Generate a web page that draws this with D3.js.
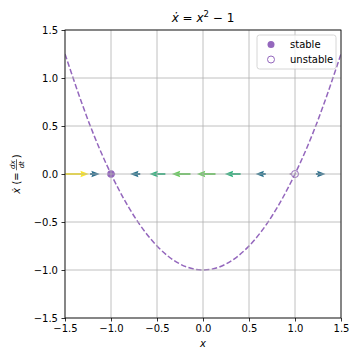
<!DOCTYPE html>
<html><head><meta charset="utf-8">
<script src="https://cdn.jsdelivr.net/npm/d3@7/dist/d3.min.js"></script>
<style>body{margin:0;background:#fff}svg{display:block;font-family:"DejaVu Sans",sans-serif}</style>
</head><body><svg id="c" width="360" height="360"></svg>
<script>
// ---- data ----
const curveX = [-1.5,-1.25,-1.0,-0.75,-0.5,-0.25,0.0,0.25,0.5,0.75,1.0,1.25,1.5];
const curveY = [1.25,0.5625,0.0,-0.4375,-0.75,-0.9375,-1.0,-0.9375,-0.75,-0.4375,0.0,0.5625,1.25];
const quiverX = [-1.5,-1.227,-0.955,-0.682,-0.409,-0.136,0.136,0.409,0.682,0.955,1.227,1.5];
const quiverU = [1.25,0.506,-0.088,-0.535,-0.833,-0.981,-0.981,-0.833,-0.535,-0.088,0.506,1.25];
const stableX = [-1.0];
const unstableX = [1.0];
const xTicks = [-1.5,-1.0,-0.5,0.0,0.5,1.0,1.5];
const yTicks = [-1.5,-1.0,-0.5,0.0,0.5,1.0,1.5];
const legendLabels = ["stable","unstable"];

const purple = "#9467bd";
const svg = d3.select("#c");
const L = 65, R = 341, T = 30, B = 318;
const x = d3.scaleLinear().domain([-1.5,1.5]).range([L,R]);
const y = d3.scaleLinear().domain([-1.5,1.5]).range([B,T]);
const fmt = v => d3.format(".1f")(v).replace("-", "\u2212");

svg.append("defs").append("clipPath").attr("id","clip")
  .append("rect").attr("x",L).attr("y",T).attr("width",R-L).attr("height",B-T);
const plot = svg.append("g").attr("clip-path","url(#clip)");

// quiver arrows
const mags = quiverU.map(Math.abs);
const mMin = d3.min(mags), mMax = d3.max(mags);
const color = d3.scaleSequential(d3.interpolateViridis).domain([mMin,mMax]);
const pxPerUnit = 19, w = 2.1;
quiverX.forEach((qx,i)=>{
  const u = quiverU[i];
  let len = Math.abs(u)*pxPerUnit;
  let hl = 4*w, hal = 3.6*w, hw = 3*w, sw = w;
  let s = 1;
  if (len < hl) { s = len/hl; }
  hl*=s; hal*=s; hw*=s; sw*=s;
  const pts = [[0,-sw/2],[len-hal,-sw/2],[len-hl,-hw/2],[len,0],[len-hl,hw/2],[len-hal,sw/2],[0,sw/2]];
  const dir = u>=0?1:-1;
  const x0 = x(qx), y0 = y(0);
  plot.append("polygon")
    .attr("points", pts.map(p=>[x0+dir*p[0], y0+p[1]].join(",")).join(" "))
    .attr("fill", color(Math.abs(u)));
});

// stable / unstable points
plot.selectAll(".st").data(stableX).enter().append("circle")
  .attr("cx",d=>x(d)).attr("cy",y(0)).attr("r",3.8).attr("fill",purple);
plot.selectAll(".un").data(unstableX).enter().append("circle")
  .attr("cx",d=>x(d)).attr("cy",y(0)).attr("r",3.5).attr("fill","none")
  .attr("stroke",purple).attr("stroke-width",1);

// grid
const grid = svg.append("g");
xTicks.forEach(t=>grid.append("line").attr("x1",x(t)).attr("x2",x(t)).attr("y1",T).attr("y2",B)
  .attr("stroke","#b0b0b0").attr("stroke-width",0.8));
yTicks.forEach(t=>grid.append("line").attr("x1",L).attr("x2",R).attr("y1",y(t)).attr("y2",y(t))
  .attr("stroke","#b0b0b0").attr("stroke-width",0.8));

// curve
const line = d3.line().x(d=>x(d[0])).y(d=>y(d[1])).curve(d3.curveNatural);
plot.append("path").datum(curveX.map((v,i)=>[v,curveY[i]]))
  .attr("d",line).attr("fill","none").attr("stroke",purple)
  .attr("stroke-width",1.5).attr("stroke-dasharray","5.5,2.4");

// axes
svg.append("g").attr("transform",`translate(0,${B})`)
  .call(d3.axisBottom(x).tickValues(xTicks).tickFormat(fmt).tickSize(3.5).tickPadding(3.5))
  .call(g=>{g.select(".domain").remove();g.selectAll("text").attr("font-size",10).attr("fill","#000").attr("font-family","DejaVu Sans");g.selectAll("line").attr("stroke","#000").attr("stroke-width",0.8);});
svg.append("g").attr("transform",`translate(${L},0)`)
  .call(d3.axisLeft(y).tickValues(yTicks).tickFormat(fmt).tickSize(3.5).tickPadding(3.5))
  .call(g=>{g.select(".domain").remove();g.selectAll("text").attr("font-size",10).attr("fill","#000").attr("font-family","DejaVu Sans");g.selectAll("line").attr("stroke","#000").attr("stroke-width",0.8);});
svg.append("rect").attr("x",L).attr("y",T).attr("width",R-L).attr("height",B-T)
  .attr("fill","none").attr("stroke","#000").attr("stroke-width",0.8);

// title
const title = svg.append("text").attr("x",(L+R)/2).attr("y",22).attr("text-anchor","middle")
  .attr("font-size",12);
title.append("tspan").attr("font-style","italic").text("\u1E8B");
title.append("tspan").text(" = ");
title.append("tspan").attr("font-style","italic").text("x");
title.append("tspan").attr("font-size",8.5).attr("dy",-5).text("2");
title.append("tspan").attr("dy",5).text(" \u2212 1");

// x label
svg.append("text").attr("x",(L+R)/2).attr("y",347).attr("text-anchor","middle")
  .attr("font-size",10).attr("font-style","italic").text("x");

// y label
const yl = svg.append("g").attr("transform","translate(20,174) rotate(-90)");
const t1 = yl.append("text").attr("font-size",10).attr("y",0);
t1.append("tspan").attr("font-style","italic").text("\u1E8B");
t1.append("tspan").text(" (=");
const w1 = t1.node().getComputedTextLength();
const fw = 11;
const t3 = yl.append("text").attr("font-size",10).text(")");
const w3 = t3.node().getComputedTextLength();
const total = w1 + 2 + fw + 1 + w3;
const x0 = -total/2;
t1.attr("x",x0);
const fc = x0 + w1 + 2 + fw/2;
yl.append("text").attr("x",fc).attr("y",-5.5).attr("font-size",7).attr("font-style","italic").attr("text-anchor","middle").text("dx");
yl.append("text").attr("x",fc).attr("y",4).attr("font-size",7).attr("font-style","italic").attr("text-anchor","middle").text("dt");
yl.append("line").attr("x1",fc-fw/2).attr("x2",fc+fw/2).attr("y1",-3.5).attr("y2",-3.5).attr("stroke","#000").attr("stroke-width",0.6);
t3.attr("x",x0 + w1 + 2 + fw + 1);

// legend
const lg = svg.append("g");
lg.append("rect").attr("x",257).attr("y",35).attr("width",79).attr("height",34).attr("rx",2.5)
  .attr("fill","#fff").attr("fill-opacity",0.8).attr("stroke","#cccccc").attr("stroke-width",0.8);
legendLabels.forEach((lab,i)=>{
  const cy = 44 + i*15;
  const c = lg.append("circle").attr("cx",271).attr("cy",cy+0.5).attr("r",3.5);
  if (i===0) c.attr("fill",purple); else c.attr("fill","none").attr("stroke",purple).attr("stroke-width",1);
  lg.append("text").attr("x",290).attr("y",cy+3.5).attr("font-size",10).text(lab);
});
</script></body></html>
